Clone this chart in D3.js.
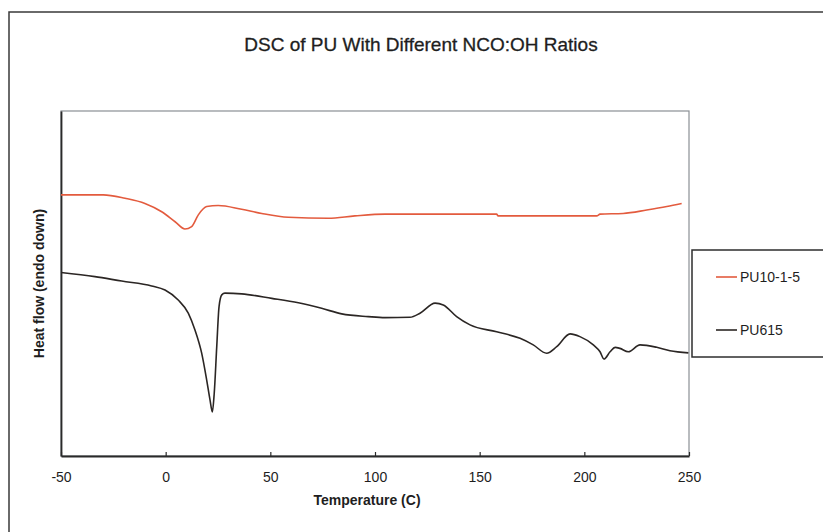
<!DOCTYPE html>
<html>
<head>
<meta charset="utf-8">
<script src="https://cdn.jsdelivr.net/npm/d3@7"></script>
<style>
  html, body { margin: 0; padding: 0; background: #fff; }
  svg { display: block; }
</style>
</head>
<body>
<svg id="chart" width="823" height="532"></svg>
<script>
// ---- data ----
const seriesNames = ["PU10-1-5", "PU615"];
const xTicks = [-50, 0, 50, 100, 150, 200, 250];

const pu1015Temp = [-50, -29.8, -19.4, -9.9, -1.9, 4.5, 9.2, 12.4, 15.6, 19.6, 25.1, 36.3, 45.9, 58.6, 77.7, 90.4, 104.8, 158.1, 158.8, 205.9, 207.5, 218.5, 229.8, 239.4, 246.5];
const pu1015Flow = [7.57, 7.57, 7.47, 7.32, 7.08, 6.79, 6.58, 6.65, 6.99, 7.23, 7.26, 7.15, 7.03, 6.92, 6.89, 6.96, 7.01, 7.01, 6.96, 6.96, 7.01, 7.03, 7.13, 7.23, 7.32];

const pu615Temp = [-50, -33.8, -21.0, -6.7, -0.3, 6.0, 10.8, 14.0, 17.2, 19.6, 21.2, 22.3, 23.2, 24.4, 25.5, 26.8, 28.3, 36.3, 50.7, 63.4, 74.5, 84.1, 96.8, 104.8, 116.7, 121.5, 128.7, 132.6, 139.0, 145.4, 158.1, 169.3, 175.6, 182.0, 186.8, 193.2, 197.9, 204.3, 207.5, 209.4, 212.3, 214.7, 217.0, 221.0, 226.6, 234.6, 240.9, 249.7];
const pu615Flow = [5.32, 5.20, 5.07, 4.93, 4.81, 4.52, 4.14, 3.65, 2.98, 2.20, 1.62, 1.28, 1.82, 3.17, 4.33, 4.67, 4.72, 4.70, 4.57, 4.44, 4.28, 4.12, 4.04, 4.01, 4.02, 4.14, 4.43, 4.38, 4.04, 3.80, 3.60, 3.41, 3.22, 2.98, 3.17, 3.54, 3.46, 3.22, 3.02, 2.81, 3.02, 3.15, 3.12, 3.02, 3.22, 3.15, 3.05, 2.99];

const seriesColors = ["#e35b3e", "#2b2624"];

// ---- layout ----
const svg = d3.select("#chart");
const W = 823, H = 532;
const plot = { left: 61, top: 111, right: 689, bottom: 456 };

const x = d3.scaleLinear().domain([-50, 250]).range([plot.left, plot.right]);
const y = d3.scaleLinear().domain([0, 10]).range([plot.bottom, plot.bottom - 345]);

const font = "'Liberation Sans Narrow', 'Liberation Sans', Arial, sans-serif";

// outer chart border
svg.append("rect")
  .attr("x", 9).attr("y", 12)
  .attr("width", W + 20).attr("height", H + 20)
  .attr("fill", "#fff")
  .attr("stroke", "#3a3a3a").attr("stroke-width", 1.5);

// plot area frame (top/right lighter)
svg.append("rect")
  .attr("x", plot.left).attr("y", plot.top)
  .attr("width", plot.right - plot.left).attr("height", plot.bottom - plot.top)
  .attr("fill", "#fff")
  .attr("stroke", "#8a8f94").attr("stroke-width", 1.2);

// title
svg.append("text")
  .attr("x", 421).attr("y", 51)
  .attr("text-anchor", "middle")
  .attr("font-family", font)
  .attr("font-size", 19)
  .attr("fill", "#1e1e1e")
  .attr("stroke", "#1e1e1e").attr("stroke-width", 0.3)
  .text("DSC of PU With Different NCO:OH Ratios");

// x axis
const xAxis = d3.axisBottom(x).tickValues(xTicks).tickSizeInner(-4).tickSizeOuter(0).tickPadding(16).tickFormat(d => String(d));
const gx = svg.append("g").attr("transform", `translate(0,${plot.bottom})`).call(xAxis);
gx.select(".domain").attr("stroke", "#2a2a2a").attr("stroke-width", 1.8);
gx.selectAll(".tick line").attr("stroke", "#2a2a2a").attr("stroke-width", 1.2);
gx.selectAll(".tick text")
  .attr("font-family", font).attr("font-size", 14).attr("fill", "#1e1e1e");

// y axis (line only)
const yAxis = d3.axisLeft(y).tickValues([]).tickSizeOuter(0);
const gy = svg.append("g").attr("transform", `translate(${plot.left},0)`).call(yAxis);
gy.select(".domain").attr("stroke", "#2a2a2a").attr("stroke-width", 1.8);

// axis titles
svg.append("text")
  .attr("x", 367).attr("y", 505)
  .attr("text-anchor", "middle")
  .attr("font-family", font).attr("font-weight", "bold").attr("font-size", 14)
  .attr("fill", "#1e1e1e")
  .text("Temperature (C)");

svg.append("text")
  .attr("transform", `translate(44,${(plot.top + plot.bottom) / 2}) rotate(-90)`)
  .attr("text-anchor", "middle")
  .attr("font-family", font).attr("font-weight", "bold").attr("font-size", 14)
  .attr("fill", "#1e1e1e")
  .text("Heat flow (endo down)");

// lines
const line = d3.line().x(d => x(d[0])).y(d => y(d[1])).curve(d3.curveMonotoneX);
const seriesData = [
  d3.zip(pu1015Temp, pu1015Flow),
  d3.zip(pu615Temp, pu615Flow)
];
seriesData.forEach((data, i) => {
  svg.append("path")
    .datum(data)
    .attr("fill", "none")
    .attr("stroke", seriesColors[i])
    .attr("stroke-width", 1.6)
    .attr("stroke-linejoin", "round")
    .attr("d", line);
});

// legend
const lg = svg.append("g");
lg.append("rect")
  .attr("x", 692).attr("y", 250)
  .attr("width", 150).attr("height", 107)
  .attr("fill", "#fff")
  .attr("stroke", "#2e2e2e").attr("stroke-width", 1.5);
const legendY = [277, 330];
seriesNames.forEach((name, i) => {
  lg.append("line")
    .attr("x1", 716).attr("x2", 737)
    .attr("y1", legendY[i]).attr("y2", legendY[i])
    .attr("stroke", seriesColors[i]).attr("stroke-width", 1.6);
  lg.append("text")
    .attr("x", 740).attr("y", legendY[i])
    .attr("dy", "0.36em")
    .attr("font-family", font).attr("font-size", 14)
    .attr("fill", "#1e1e1e")
    .text(name);
});
</script>
</body>
</html>
